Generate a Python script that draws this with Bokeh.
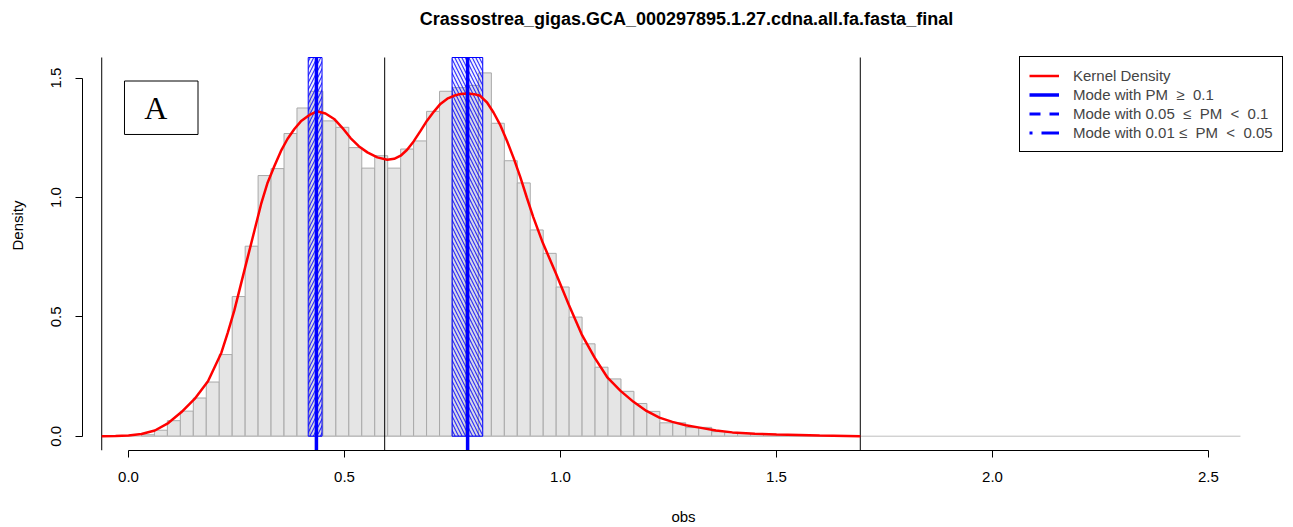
from bokeh.plotting import figure
from bokeh.models import (ColumnDataSource, Legend, LegendItem, FixedTicker,
                          PrintfTickFormatter, BoxAnnotation, Label, Range1d)
from bokeh.embed import file_html
from bokeh.resources import INLINE

# ---------------- data ----------------
title_text = "Crassostrea_gigas.GCA_000297895.1.27.cdna.all.fa.fasta_final"
x_label = "obs"
y_label = "Density"

bin_width = 0.03
bin_left = [0.03, 0.06, 0.09, 0.12, 0.15, 0.18, 0.21, 0.24, 0.27, 0.30,
            0.33, 0.36, 0.39, 0.42, 0.45, 0.48, 0.51, 0.54, 0.57, 0.60,
            0.63, 0.66, 0.69, 0.72, 0.75, 0.78, 0.81, 0.84, 0.87, 0.90,
            0.93, 0.96, 0.99, 1.02, 1.05, 1.08, 1.11, 1.14, 1.17, 1.20,
            1.23, 1.26, 1.29, 1.32, 1.35, 1.38, 1.41, 1.44, 1.47, 1.50,
            1.53, 1.56, 1.59, 1.62]
bin_density = [0.006, 0.025, 0.065, 0.105, 0.160, 0.227, 0.342, 0.585, 0.796, 1.092,
               1.121, 1.268, 1.375, 1.445, 1.321, 1.294, 1.209, 1.123, 1.175, 1.123,
               1.203, 1.237, 1.361, 1.445, 1.460, 1.470, 1.522, 1.311, 1.154, 1.061,
               0.864, 0.766, 0.625, 0.499, 0.387, 0.289, 0.240, 0.188, 0.137, 0.104,
               0.056, 0.056, 0.036, 0.037, 0.019, 0.015, 0.012, 0.010, 0.008, 0.005,
               0.004, 0.003, 0.002, 0.001]

kde_x = [-0.062, -0.03, 0.0, 0.03, 0.061, 0.092, 0.122, 0.153, 0.184, 0.215,
         0.23, 0.245, 0.26, 0.276, 0.292, 0.307, 0.322, 0.338, 0.353, 0.368,
         0.384, 0.399, 0.418, 0.436, 0.456, 0.476, 0.495, 0.514, 0.533, 0.553,
         0.576, 0.599, 0.615, 0.630, 0.645, 0.660, 0.676, 0.691, 0.707, 0.722,
         0.738, 0.753, 0.769, 0.785, 0.800, 0.814, 0.830, 0.845, 0.861, 0.876,
         0.892, 0.907, 0.922, 0.937, 0.959, 0.989, 1.019, 1.049, 1.079, 1.109,
         1.139, 1.169, 1.199, 1.229, 1.259, 1.29, 1.322, 1.36, 1.398, 1.45,
         1.50, 1.552, 1.60, 1.694]
kde_y = [0.0, 0.001, 0.003, 0.009, 0.024, 0.055, 0.100, 0.156, 0.230, 0.350,
         0.435, 0.527, 0.635, 0.750, 0.865, 0.973, 1.062, 1.133, 1.195, 1.245,
         1.287, 1.319, 1.345, 1.361, 1.352, 1.329, 1.292, 1.249, 1.215, 1.189,
         1.168, 1.158, 1.162, 1.175, 1.200, 1.235, 1.279, 1.322, 1.360, 1.392,
         1.414, 1.426, 1.434, 1.436, 1.433, 1.426, 1.398, 1.356, 1.302, 1.238,
         1.163, 1.085, 1.000, 0.918, 0.810, 0.684, 0.552, 0.427, 0.329, 0.245,
         0.190, 0.144, 0.106, 0.078, 0.060, 0.046, 0.036, 0.024, 0.016, 0.010,
         0.007, 0.005, 0.003, 0.0]

mode_x = [0.435, 0.785]
mode_band_left = [0.416, 0.749]
mode_band_right = [0.448, 0.820]
mode_band_hatch = ["/", "\\"]

vline_x = [-0.062, 0.593, 1.694]
zero_line_x = [-0.062, 2.574]

x_ticks = [0.0, 0.5, 1.0, 1.5, 2.0, 2.5]
y_ticks = [0.0, 0.5, 1.0, 1.5]

legend_labels = ["Kernel Density",
                 "Mode with PM \u00a0\u2265\u00a0 0.1",
                 "Mode with 0.05 \u00a0\u2264\u00a0 PM \u00a0<\u00a0 0.1",
                 "Mode with 0.01\u00a0\u2264\u00a0 PM \u00a0<\u00a0 0.05"]
panel_letter = "A"

# ---------------- layout constants ----------------
FONT = "Liberation Sans"
NAN = float("nan")
Y_LO, Y_HI = -0.0599, 1.5865      # R plot region (y) -> pixels 450 .. 57
Y_CANVAS_TOP = 1.8253             # frame extended to the top of the canvas (pixel 0)

p = figure(width=1293, height=527,
           x_range=Range1d(-0.1065, 2.676), y_range=Range1d(Y_LO, Y_CANVAS_TOP),
           output_backend="svg", toolbar_location=None, tools="",
           min_border_left=82, min_border_right=9, min_border_top=0, min_border_bottom=77)
p.outline_line_color = None
p.grid.visible = False
p.background_fill_color = "white"
p.border_fill_color = "white"

# main title (frame is 1202 x 450 px, screen units measured from its bottom-left)
p.add_layout(Label(x=604, y=432, x_units="screen", y_units="screen", text=title_text,
                   text_font=FONT, text_font_size="18px", text_font_style="bold",
                   text_align="center", text_baseline="middle", text_color="black"))

# histogram
bin_right = [b + bin_width for b in bin_left]
p.quad(left=bin_left, right=bin_right, bottom=0, top=bin_density,
       fill_color="#e5e5e5", line_color="#a9a9a9", line_width=1)

# zero line
p.segment(x0=[zero_line_x[0]], y0=[0], x1=[zero_line_x[1]], y1=[0],
          line_color="#bebebe", line_width=1)

# mode bands
band_src = ColumnDataSource(dict(left=mode_band_left, right=mode_band_right,
                                 hatch=mode_band_hatch))
p.quad(left="left", right="right", bottom=0, top=Y_HI, source=band_src,
       fill_color="blue", fill_alpha=0.06, line_color="blue", line_width=1,
       hatch_pattern="hatch", hatch_color="blue", hatch_alpha=0.8,
       hatch_scale=7, hatch_weight=1.1)

# black vertical lines across the plot region
p.segment(x0=vline_x, y0=[Y_LO] * len(vline_x), x1=vline_x, y1=[Y_HI] * len(vline_x),
          line_color="black", line_width=1)

# kernel density
r_kde = p.line(kde_x, kde_y, line_color="red", line_width=2.5)

# mode lines
r_mode = p.segment(x0=mode_x, y0=[Y_LO] * len(mode_x), x1=mode_x, y1=[Y_HI] * len(mode_x),
                   line_color="blue", line_width=3.5)

# legend-only renderers (no visible data)
r_dash = p.line(x=[NAN, NAN], y=[NAN, NAN], line_color="blue", line_width=3,
                line_dash="11 9")
r_dotdash = p.line(x=[NAN, NAN], y=[NAN, NAN], line_color="blue", line_width=3,
                   line_dash="3 9 18 9")

# legend: location is its bottom-left corner in screen units from the frame's bottom-left
legend = Legend(items=[LegendItem(label=legend_labels[0], renderers=[r_kde]),
                       LegendItem(label=legend_labels[1], renderers=[r_mode]),
                       LegendItem(label=legend_labels[2], renderers=[r_dash]),
                       LegendItem(label=legend_labels[3], renderers=[r_dotdash])],
                location=(937, 298), margin=0, padding=9, spacing=0,
                label_height=19, glyph_height=19, glyph_width=30, label_standoff=14,
                label_text_font=FONT, label_text_font_size="15px",
                border_line_color="black", border_line_width=1, border_line_alpha=1,
                background_fill_color="white", background_fill_alpha=1)
p.add_layout(legend)

# panel letter box
p.add_layout(BoxAnnotation(left=-0.0093, right=0.1609, top=1.488, bottom=1.264,
                           fill_color="white", fill_alpha=1,
                           line_color="black", line_width=1, line_alpha=1))
p.add_layout(Label(x=0.063, y=1.376, text=panel_letter, text_font="Liberation Serif",
                   text_font_size="32px", text_align="center", text_baseline="middle",
                   text_color="black"))

# axes
for ax, ticks in ((p.xaxis[0], x_ticks), (p.yaxis[0], y_ticks)):
    ax.ticker = FixedTicker(ticks=ticks)
    ax.formatter = PrintfTickFormatter(format="%.1f")
    ax.bounds = (ticks[0], ticks[-1])
    ax.minor_tick_line_color = None
    ax.major_tick_in = 0
    ax.major_tick_out = 7
    ax.axis_line_color = "black"
    ax.major_tick_line_color = "black"
    ax.major_label_text_font = FONT
    ax.major_label_text_font_size = "15px"
    ax.major_label_text_color = "black"
    ax.axis_label_text_font = FONT
    ax.axis_label_text_font_size = "15px"
    ax.axis_label_text_font_style = "normal"
    ax.axis_label_text_color = "black"

p.xaxis.axis_label = x_label
p.xaxis.major_label_standoff = 14
p.xaxis.axis_label_standoff = 23
p.yaxis.axis_label = y_label
p.yaxis.major_label_orientation = "vertical"
p.yaxis.major_label_standoff = 14
p.yaxis.axis_label_standoff = 23

open("out.html", "w").write(file_html(p, INLINE))
